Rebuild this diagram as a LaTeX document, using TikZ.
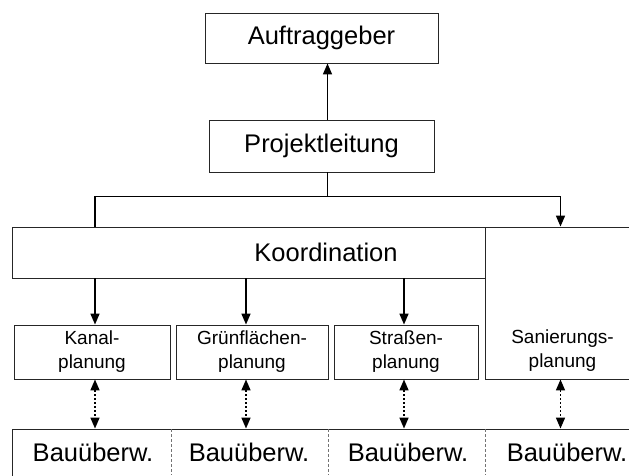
\documentclass[tikz,border=0pt]{standalone}
\usepackage{fontspec}
\setmainfont{Liberation Sans}
\usetikzlibrary{arrows.meta}
\begin{document}
\begin{tikzpicture}[x=1pt,y=-1pt,
  box/.style={draw=black!85, line width=0.9pt, fill=white, inner sep=0pt},
  bigtxt/.style={font=\fontsize{25.5}{30}\selectfont},
  smalltxt/.style={font=\fontsize{19}{24}\selectfont, align=center, inner sep=0pt},
  conn/.style={line width=1.6pt, -{Triangle[width=9pt,length=11pt]}},
  link/.style={line width=1.6pt, dash pattern=on 2pt off 2pt,
    {Triangle[width=9pt,length=11pt]}-{Triangle[width=9pt,length=11pt]}},
  sep/.style={draw=black!55, line width=0.6pt, dash pattern=on 3pt off 2pt}]
\useasboundingbox (0,0) rectangle (629,475);
\clip (0,0) rectangle (629,475);

% management levels
\node[box, bigtxt, minimum width=233, minimum height=50] (auf) at (321.5,38) {Auftraggeber};
\node[box, bigtxt, minimum width=225, minimum height=52] (proj) at (321.5,146) {Projektleitung};

% coordination bar (runs on under the renovation box)
\node[box, bigtxt, minimum width=628, minimum height=51] (koord) at (326,252.5) {Koordination};
\node[box, minimum width=155, minimum height=152] (sanbox) at (562.5,303) {};
\node[smalltxt] (san) at (562.5,351) {Sanierungs-\\planung};

% planning boxes
\node[box, smalltxt, minimum width=156, minimum height=54] (kanal) at (92,352) {Kanal-\\planung};
\node[box, smalltxt, minimum width=152, minimum height=54] (gruen) at (252,352) {Grünflächen-\\planung};
\node[box, smalltxt, minimum width=144, minimum height=54] (strasse) at (406,352) {Straßen-\\planung};

% site supervision row
\node[box, minimum width=628, minimum height=62] (bauzeile) at (326,460) {};
\draw[sep] (171,429) -- (171,475);
\draw[sep] (328,429) -- (328,475);
\draw[sep] (485,429) -- (485,475);
\node[bigtxt, inner sep=0pt] (bau1) at (93,452) {Bauüberw.};
\node[bigtxt, inner sep=0pt] (bau2) at (249,452) {Bauüberw.};
\node[bigtxt, inner sep=0pt] (bau3) at (408,452) {Bauüberw.};
\node[bigtxt, inner sep=0pt] (bau4) at (567,452) {Bauüberw.};

% reporting line
\draw[conn] ([xshift=6pt]proj.north) -- ([xshift=6pt]auf.south);
\coordinate (split) at ([xshift=6pt,yshift=-24pt]proj.south);
\draw[line width=1.6pt] ([xshift=6pt]proj.south) -- (split);
\draw[line width=1.6pt] (split) -| ([xshift=3pt]kanal.north |- koord.north);
\draw[conn] (split) -| ([xshift=-2pt]sanbox.north);

% coordination to planning
\draw[conn] ([xshift=3pt]kanal.north |- koord.south) -- ([xshift=3pt]kanal.north);
\draw[conn] ([xshift=-6pt]gruen.north |- koord.south) -- ([xshift=-6pt]gruen.north);
\draw[conn] ([xshift=-2pt]strasse.north |- koord.south) -- ([xshift=-2pt]strasse.north);

% planning to site supervision
\draw[link] ([xshift=3pt]kanal.south) -- ([xshift=3pt]kanal.south |- bauzeile.north);
\draw[link] ([xshift=-6pt]gruen.south) -- ([xshift=-6pt]gruen.south |- bauzeile.north);
\draw[link] ([xshift=-2pt]strasse.south) -- ([xshift=-2pt]strasse.south |- bauzeile.north);
\draw[link] ([xshift=-2pt]sanbox.south) -- ([xshift=-2pt]sanbox.south |- bauzeile.north);
\end{tikzpicture}
\end{document}
